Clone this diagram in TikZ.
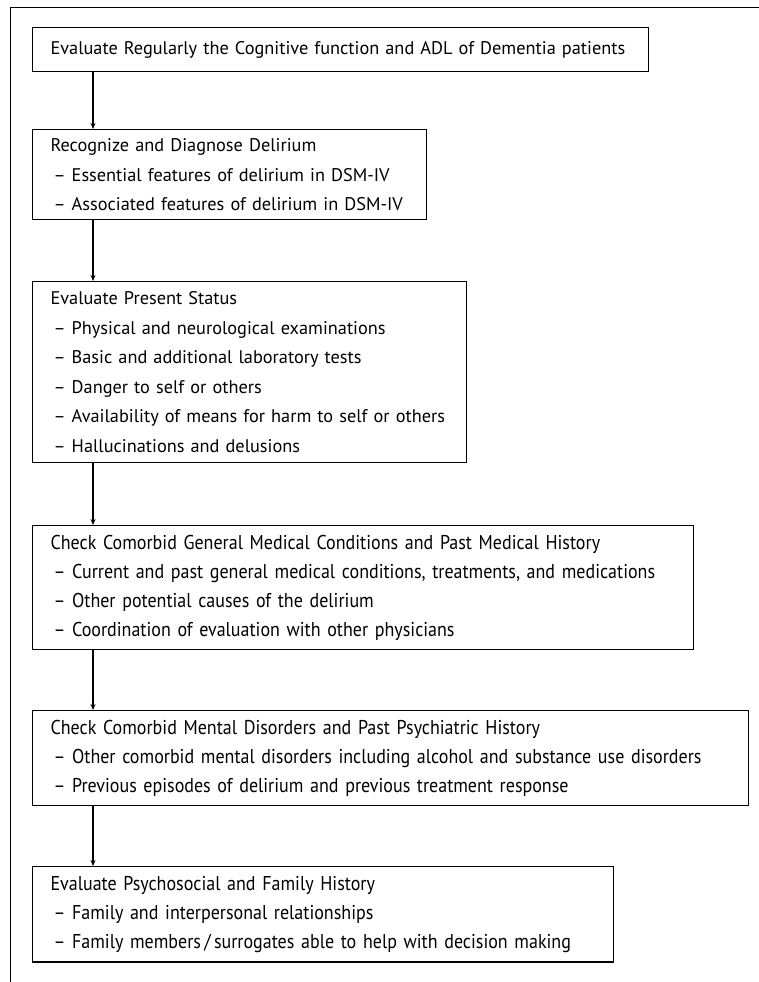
\documentclass[tikz,border=0pt]{standalone}
\usepackage{fontspec}
\setmainfont{PT Sans}
\newfontfamily\narrowfont[FakeStretch=0.9,Ligatures=TeX]{PT Sans}
\usetikzlibrary{arrows.meta}
\begin{document}
\begin{tikzpicture}[x=1pt,y=-1pt]
      \tikzstyle{box}=[draw,line width=1.1pt,anchor=north west,align=left,inner xsep=18pt,inner ysep=9pt,font=\fontsize{18.3}{29.5}\selectfont]
      \tikzstyle{lowbox}=[box,inner ysep=9.5pt,font=\narrowfont\fontsize{20}{29}\selectfont]
      \tikzstyle{edge}=[draw,line width=1.6pt,-{Stealth[length=6pt,width=5pt]}]
      \useasboundingbox (0,0) rectangle (759,982);
      \path[draw,line width=0.9pt] (759,7) -- (10,7) -- (10,982);
      \coordinate (spine) at (93,0);
      \node[box,inner ysep=13.5pt,text width=580pt] (eval) at (32,27)
        {Evaluate Regularly the Cognitive function and ADL of Dementia patients};
      \node[box,text width=358pt] (recog) at (32,129)
        {Recognize and Diagnose Delirium\\
         \hspace{3pt}-- Essential features of delirium in DSM-IV\\
         \hspace{3pt}-- Associated features of delirium in DSM-IV};
      \node[box,inner ysep=10pt,text width=398pt] (status) at (32,281)
        {Evaluate Present Status\\
         \hspace{3pt}-- Physical and neurological examinations\\
         \hspace{3pt}-- Basic and additional laboratory tests\\
         \hspace{3pt}-- Danger to self or others\\
         \hspace{3pt}-- Availability of means for harm to self or others\\
         \hspace{3pt}-- Hallucinations and delusions};
      \node[lowbox,text width=625pt] (medical) at (32,525)
        {Check Comorbid General Medical Conditions and Past Medical History\\
         \hspace{3pt}-- Current and past general medical conditions, treatments, and medications\\
         \hspace{3pt}-- Other potential causes of the delirium\\
         \hspace{3pt}-- Coordination of evaluation with other physicians};
      \node[lowbox,text width=680pt] (mental) at (32,710)
        {Check Comorbid Mental Disorders and Past Psychiatric History\\
         \hspace{3pt}-- Other comorbid mental disorders including alcohol and substance use disorders\\
         \hspace{3pt}-- Previous episodes of delirium and previous treatment response};
      \node[lowbox,text width=545pt] (social) at (32,866)
        {Evaluate Psychosocial and Family History\\
         \hspace{3pt}-- Family and interpersonal relationships\\
         \hspace{3pt}-- Family members\,/\,surrogates able to help with decision making};
      \path[edge] (eval.south -| spine) -- (recog.north -| spine);
      \path[edge] (recog.south -| spine) -- (status.north -| spine);
      \path[edge] (status.south -| spine) -- (medical.north -| spine);
      \path[edge] (medical.south -| spine) -- (mental.north -| spine);
      \path[edge] (mental.south -| spine) -- (social.north -| spine);
    \end{tikzpicture}
\end{document}
